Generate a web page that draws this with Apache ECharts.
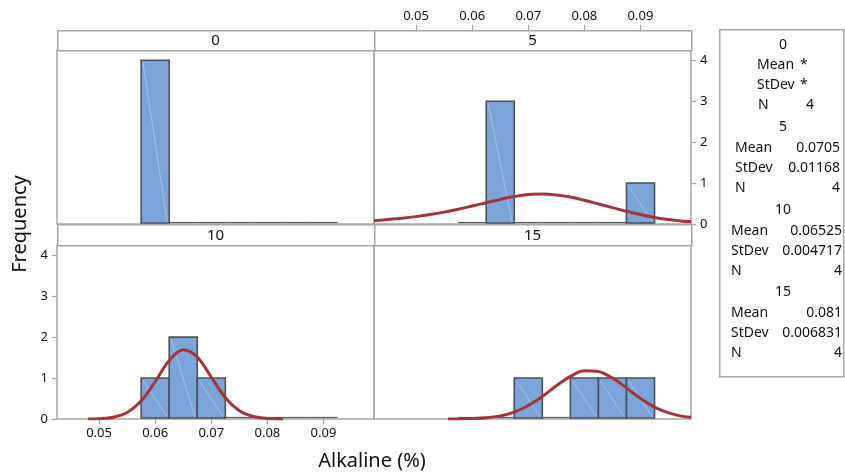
<!DOCTYPE html>
<html>
<head>
<meta charset="utf-8">
<title>Histogram of Alkaline (%)</title>
<script src="https://cdn.jsdelivr.net/npm/echarts@6/dist/echarts.min.js"></script>
<style>
  html, body { margin: 0; padding: 0; background: #fff; }
  #chart { width: 845px; height: 472px; }
</style>
</head>
<body>
<div id="chart"></div>
<script>
// bins shared by all panels
const binLow  = [0.0575, 0.0625, 0.0675, 0.0725, 0.0775, 0.0825, 0.0875]
const binHigh = [0.0625, 0.0675, 0.0725, 0.0775, 0.0825, 0.0875, 0.0925]

// frequencies per panel
const groups   = ['0', '5', '10', '15']
const counts0  = [4, 0, 0, 0, 0, 0, 0]
const counts5  = [0, 3, 0, 0, 0, 0, 1]
const counts10 = [1, 2, 1, 0, 0, 0, 0]
const counts15 = [0, 0, 1, 0, 1, 1, 1]

// fitted normal curves
const curveX5  = [0.0425, 0.045, 0.0475, 0.05, 0.0525, 0.055, 0.0575, 0.06, 0.0625, 0.065, 0.0675, 0.07, 0.0725, 0.075, 0.0775, 0.08, 0.0825, 0.085, 0.0875, 0.09, 0.0925, 0.095, 0.0975, 0.099]
const curveY5  = [0.08, 0.11, 0.14, 0.18, 0.23, 0.29, 0.36, 0.44, 0.52, 0.60, 0.67, 0.72, 0.73, 0.71, 0.66, 0.58, 0.49, 0.40, 0.31, 0.23, 0.16, 0.11, 0.07, 0.06]
const curveX10 = [0.048, 0.05, 0.0525, 0.055, 0.0575, 0.06, 0.0625, 0.065, 0.0675, 0.07, 0.0725, 0.075, 0.0775, 0.08, 0.0828]
const curveY10 = [0.002, 0.009, 0.044, 0.16, 0.44, 0.91, 1.43, 1.69, 1.51, 1.02, 0.52, 0.20, 0.06, 0.013, 0.002]
const curveX15 = [0.0557, 0.0575, 0.06, 0.0625, 0.065, 0.0675, 0.07, 0.0725, 0.075, 0.0775, 0.08, 0.0825, 0.085, 0.0875, 0.09, 0.0925, 0.095, 0.0975, 0.099]
const curveY15 = [0.001, 0.003, 0.011, 0.03, 0.077, 0.17, 0.33, 0.55, 0.81, 1.04, 1.18, 1.16, 1.00, 0.76, 0.50, 0.29, 0.15, 0.064, 0.04]

// axis ticks
const xTicks = [0.05, 0.06, 0.07, 0.08, 0.09]
const yTicks = [0, 1, 2, 3, 4]

// summary box
const means  = ['*', '0.0705', '0.06525', '0.081']
const stdevs = ['*', '0.01168', '0.004717', '0.006831']
const ns     = ['4', '4', '4', '4']

const FONT = 'Noto Sans'
const FRAME = '#a6a6a6'
const TEXT = '#111'

const chart = echarts.init(document.getElementById('chart'))

// panel boxes: left, top (plot area), strip top
const boxes = [
  { left: 57,  top: 50,  strip: 30 },
  { left: 374, top: 50,  strip: 30 },
  { left: 57,  top: 245, strip: 224 },
  { left: 374, top: 245, strip: 224 }
]
const PW = 317, PH = 174

const counts = [counts0, counts5, counts10, counts15]
const curves = [null, [curveX5, curveY5], [curveX10, curveY10], [curveX15, curveY15]]

// draws one histogram bin (empty bins are a thin line on the base)
const renderBin = (params, api) => {
  const lo = api.value(0), hi = api.value(1), n = api.value(2)
  const a = api.coord([lo, n])
  const b = api.coord([hi, 0])
  if (!n) {
    return {
      type: 'line',
      shape: { x1: a[0], y1: b[1] - 1.5, x2: b[0], y2: b[1] - 1.5 },
      style: { stroke: '#55595e', lineWidth: 1.2 }
    }
  }
  return {
    type: 'group',
    children: [
      {
        type: 'rect',
        shape: { x: a[0], y: a[1], width: b[0] - a[0], height: b[1] - a[1] - 1 },
        style: { fill: '#7ba5d9', stroke: '#4c5157', lineWidth: 1.6 }
      },
      {
        type: 'line',
        shape: { x1: a[0] + 2, y1: a[1] + 3, x2: b[0] - 2, y2: b[1] - 2 },
        style: { stroke: 'rgba(255,255,255,0.45)', lineWidth: 0.7 }
      }
    ]
  }
}

const tickStyle = { lineStyle: { color: FRAME, width: 1.3 }, length: 5 }
const labelStyle = { color: TEXT, fontFamily: FONT, fontSize: 13 }

const xAxis = boxes.map((b, i) => {
  const ax = {
    type: 'value', gridIndex: i, min: 0.0425, max: 0.099,
    splitLine: { show: false },
    axisLine: { show: false, onZero: false },
    axisTick: { show: false },
    axisLabel: { show: false }
  }
  if (i === 1 || i === 2) {
    ax.position = i === 1 ? 'top' : 'bottom'
    ax.offset = i === 1 ? 20 : 0
    ax.axisTick = { show: true, customValues: xTicks, ...tickStyle }
    ax.axisLabel = { show: true, customValues: xTicks, margin: i === 1 ? 7 : 8, formatter: v => v.toFixed(2), ...labelStyle }
  }
  return ax
})

const yAxis = boxes.map((b, i) => {
  const ax = {
    type: 'value', gridIndex: i, min: 0, max: 4.25,
    splitLine: { show: false },
    axisLine: { show: false, onZero: false },
    axisTick: { show: false },
    axisLabel: { show: false }
  }
  if (i === 1 || i === 2) {
    ax.position = i === 1 ? 'right' : 'left'
    ax.axisTick = { show: true, customValues: yTicks, ...tickStyle }
    ax.axisLabel = { show: true, customValues: yTicks, margin: 9, ...labelStyle }
  }
  return ax
})

const series = []
boxes.forEach((b, i) => {
  series.push({
    type: 'custom',
    xAxisIndex: i, yAxisIndex: i,
    renderItem: renderBin,
    encode: { x: [0, 1], y: 2 },
    data: binLow.map((lo, k) => [lo, binHigh[k], counts[i][k]]),
    silent: true
  })
  if (curves[i]) {
    const [cx, cy] = curves[i]
    series.push({
      type: 'line',
      xAxisIndex: i, yAxisIndex: i,
      data: cx.map((x, k) => [x, cy[k]]),
      smooth: 0.35,
      showSymbol: false,
      silent: true,
      z: 5,
      lineStyle: { color: '#a5343a', width: 3 }
    })
  }
})

// strips with group names
const graphics = []
boxes.forEach((b, i) => {
  graphics.push({
    type: 'rect', left: b.left, top: b.strip,
    shape: { width: PW, height: b.top - b.strip },
    style: { fill: '#fff', stroke: FRAME, lineWidth: 1.5 }
  })
  graphics.push({
    type: 'text', x: b.left + PW / 2, y: b.strip + (b.top - b.strip) / 2 + 1,
    style: { text: groups[i], fill: TEXT, font: `15px "${FONT}"`, textAlign: 'center', textVerticalAlign: 'middle' }
  })
})

// axis titles
graphics.push({
  type: 'text', x: 20, y: 224, rotation: Math.PI / 2,
  style: { text: 'Frequency', fill: TEXT, font: `20px "${FONT}"`, textAlign: 'center', textVerticalAlign: 'middle' }
})
graphics.push({
  type: 'text', x: 372, y: 461,
  style: { text: 'Alkaline (%)', fill: TEXT, font: `20px "${FONT}"`, textAlign: 'center', textVerticalAlign: 'middle' }
})

// summary box on the right
graphics.push({
  type: 'rect', left: 719, top: 29,
  shape: { width: 124, height: 347 },
  style: { fill: '#fff', stroke: FRAME, lineWidth: 1.5 }
})
const legendText = (text, x, y, align) => ({
  type: 'text', x, y, z: 10,
  style: { text, fill: TEXT, font: `14px "${FONT}"`, textAlign: align, textVerticalAlign: 'middle' }
})
const headY = [45, 127, 210, 292]
groups.forEach((g, i) => {
  const y0 = headY[i]
  graphics.push(legendText(g, 783, y0, 'center'))
  if (i === 0) {
    graphics.push(legendText('Mean', 757, y0 + 20.5, 'left'))
    graphics.push(legendText(means[i], 800, y0 + 20.5, 'left'))
    graphics.push(legendText('StDev', 757, y0 + 40.5, 'left'))
    graphics.push(legendText(stdevs[i], 800, y0 + 40.5, 'left'))
    graphics.push(legendText('N', 758, y0 + 60.5, 'left'))
    graphics.push(legendText(ns[i], 810, y0 + 60.5, 'center'))
  } else {
    const lx = i === 1 ? 735 : 731
    const rx = i === 1 ? 840 : 842
    graphics.push(legendText('Mean', lx, y0 + 21, 'left'))
    graphics.push(legendText(means[i], rx, y0 + 21, 'right'))
    graphics.push(legendText('StDev', lx, y0 + 41, 'left'))
    graphics.push(legendText(stdevs[i], rx, y0 + 41, 'right'))
    graphics.push(legendText('N', lx, y0 + 61, 'left'))
    graphics.push(legendText(ns[i], rx, y0 + 61, 'right'))
  }
})

const option = {
  animation: false,
  backgroundColor: '#fff',
  textStyle: { fontFamily: FONT },
  grid: boxes.map(b => ({
    left: b.left, top: b.top, width: PW, height: PH,
    show: true, borderColor: FRAME, borderWidth: 1.5,
    containLabel: false, outerBoundsMode: 'none'
  })),
  xAxis,
  yAxis,
  series,
  graphic: graphics
}

chart.setOption(option)
window.addEventListener('resize', () => chart.resize())
</script>
</body>
</html>
